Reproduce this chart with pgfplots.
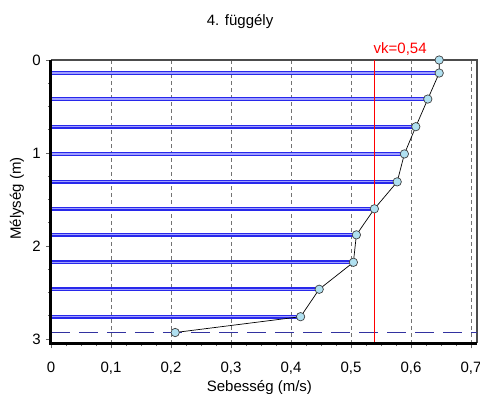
\documentclass[border=0pt]{standalone}
\usepackage{pgfplots}
\usepackage{pgfplotstable}
\pgfplotsset{compat=1.18}
\usepackage{fontspec}
\setmainfont{Liberation Sans}
\definecolor{combblue}{RGB}{40,40,235}
\definecolor{combmid}{RGB}{160,160,255}
\definecolor{navydash}{RGB}{50,50,160}
\definecolor{markfill}{RGB}{176,224,240}
\pgfplotstableread{
d v
0 0.647
0.14 0.647
0.42 0.628
0.717 0.608
1.01 0.589
1.31 0.577
1.60 0.539
1.88 0.509
2.175 0.504
2.465 0.447
2.76 0.416
2.93 0.207
}\profile
\pgfplotstableread{
d v
0.14 0.647
0.42 0.628
0.717 0.608
1.01 0.589
1.31 0.577
1.60 0.539
1.88 0.509
2.175 0.504
2.465 0.447
2.76 0.416
}\combs
\begin{document}
\fontsize{15}{18}\selectfont
\begin{tikzpicture}
\useasboundingbox (-51pt,-50.7pt) rectangle (429pt,343.3pt);
\begin{axis}[
  at={(0pt,0pt)}, anchor=south west,
  scale only axis, width=426pt, height=283.3pt,
  xmin=0, xmax=0.71, ymin=0, ymax=3.046, y dir=reverse,
  clip=false,
  xtick={0,0.1,0.2,0.3,0.4,0.5,0.6,0.7},
  ytick={0,1,2,3},
  minor x tick num=3, minor y tick num=3,
  /pgf/number format/use comma,
  /pgf/number format/assume math mode=true,
  tick align=outside,
  major tick length=5pt, minor tick length=3pt,
  tick style={black!60, line width=0.8pt},
  xtick pos=left, ytick pos=left,
  xticklabel style={yshift=-9pt},
  xmajorgrids,
  major grid style={black!55, dash pattern=on 4pt off 3pt, line width=0.8pt},
  axis line style={draw=none},
]
\draw[black!70, line width=1.5pt] (axis cs:0,0) -- (axis cs:0.71,0) -- (axis cs:0.71,3.046);
\addplot[color=navydash, line width=1.3pt, dash pattern=on 19pt off 9pt] coordinates {(0,2.93) (0.71,2.93)};
\addplot[xcomb, draw=combblue, line width=1.4pt, double=combmid, double distance=1.2pt] table[x=v,y=d] {\combs};
\addplot[red, line width=1pt] coordinates {(0.54,0) (0.54,3.046)};
\addplot[black, line width=0.7pt, mark=*, mark size=4.2pt, mark options={fill=markfill, draw=black!75, line width=0.7pt}] table[x=v,y=d] {\profile};
\draw[black, line width=3pt] (axis cs:0,0) -- (axis cs:0,3.046) -- (axis cs:0.71,3.046);
\node[red, anchor=base west, inner sep=0pt, xshift=-1.5pt, yshift=7pt] at (axis cs:0.54,0) {vk=0,54};
\end{axis}
\node[anchor=base west, inner sep=0pt] at (155.7pt,317.8pt) {4. függély};
\node[anchor=base west, inner sep=0pt] at (155.7pt,-48.2pt) {Sebesség (m/s)};
\node[anchor=base west, inner sep=0pt, rotate=90] at (-30pt,103.3pt) {Mélység (m)};
\end{tikzpicture}
\end{document}
